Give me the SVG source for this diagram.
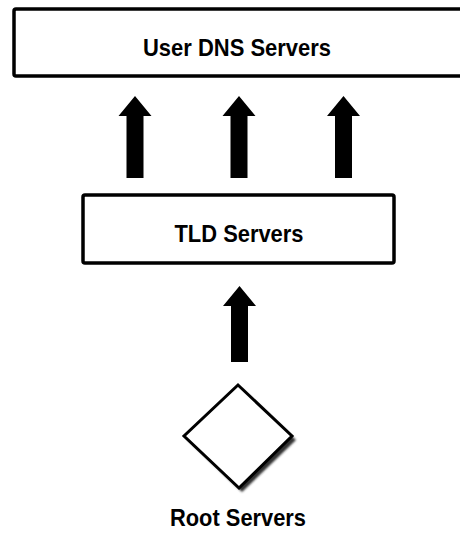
<svg xmlns="http://www.w3.org/2000/svg" width="460" height="535" viewBox="0 0 460 535">
<style>
.box{fill:#fff;stroke:#000;stroke-width:3.5}
.lbl{font-family:"Liberation Sans",Arial,sans-serif;font-weight:bold;font-size:24px;fill:#000;text-anchor:middle}
.arr{fill:#000}
</style>
<defs>
<filter id="blur" x="-20%" y="-20%" width="140%" height="140%"><feGaussianBlur stdDeviation="1.2"/></filter>
</defs>
<rect width="460" height="535" fill="#fff"/>
<g id="user-dns">
<rect class="box" x="14" y="9" width="460" height="67" rx="2"/>
<text class="lbl" x="237" y="56" textLength="188" lengthAdjust="spacingAndGlyphs">User DNS Servers</text>
</g>
<g id="tld">
<rect class="box" x="83" y="195" width="311" height="68" rx="2"/>
<text class="lbl" x="239" y="242" textLength="129" lengthAdjust="spacingAndGlyphs">TLD Servers</text>
</g>
<g id="root">
<polygon points="241,388 296,440 242,492 187,439" fill="#333" filter="url(#blur)"/>
<polygon points="238,385 292,436 239,488 184,436" fill="#fff" stroke="#000" stroke-width="3"/>
<text class="lbl" x="238" y="526" textLength="136" lengthAdjust="spacingAndGlyphs">Root Servers</text>
</g>
<g id="connectors">
<polygon class="arr" points="135,96 151.5,116 143.5,116 143.5,178 126.5,178 126.5,116 118.5,116"/>
<polygon class="arr" points="239,96 255.5,116 247.5,116 247.5,178 230.5,178 230.5,116 222.5,116"/>
<polygon class="arr" points="343.5,96 360,116 352,116 352,178 335,178 335,116 327,116"/>
<polygon class="arr" points="239.5,286 256,306 248,306 248,362 231,362 231,306 223,306"/>
</g>
</svg>
